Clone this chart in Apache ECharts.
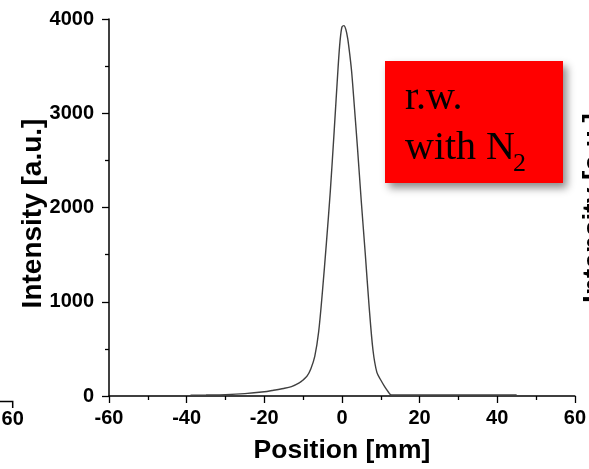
<!DOCTYPE html>
<html>
<head>
<meta charset="utf-8">
<script src="https://cdn.jsdelivr.net/npm/echarts@6/dist/echarts.min.js"></script>
<style>
  html, body { margin: 0; padding: 0; background: #fff; }
  #chart { width: 589px; height: 469px; }
</style>
</head>
<body>
<div id="chart"></div>
<script>
// Beam profile: intensity versus transverse position
const positions = [-39, -35, -30, -25, -20, -18, -15, -13, -11, -10, -9, -8, -7, -6, -5, -4, -3, -2, -1, -0.5, 0, 0.5, 1, 1.5, 2, 2.5, 3, 4, 5, 6, 7, 8, 9, 10, 11, 12, 12.5, 13, 15, 20, 30, 40, 45];
const intensity = [8, 10, 14, 25, 45, 58, 80, 100, 140, 170, 210, 290, 420, 680, 1120, 1625, 2170, 2810, 3480, 3760, 3915, 3930, 3890, 3790, 3630, 3440, 3180, 2635, 2055, 1515, 950, 485, 250, 170, 100, 40, 14, 10, 10, 10, 10, 10, 10];

const xTicks = { min: -60, max: 60, step: 20 };
const yTicks = { min: 0, max: 4000, step: 1000 };

const axisFont = { fontFamily: 'Liberation Sans, Arial, sans-serif', fontWeight: 'bold', color: '#000' };
const plain = v => String(v);

const chart = echarts.init(document.getElementById('chart'), null, { renderer: 'canvas' });

chart.setOption({
  animation: false,
  backgroundColor: '#fff',
  grid: { left: 109, right: 10, top: 19, bottom: 67, containLabel: false },
  xAxis: {
    type: 'value',
    min: xTicks.min, max: xTicks.max, interval: xTicks.step,
    name: 'Position [mm]',
    nameLocation: 'middle',
    nameGap: 41,
    nameMoveOverlap: false,
    nameTextStyle: Object.assign({ fontSize: 26.5 }, axisFont),
    axisLine: { show: true, onZero: false, lineStyle: { color: '#000', width: 1.5 } },
    axisTick: { show: true, inside: false, length: 7, lineStyle: { color: '#000', width: 1.3 } },
    minorTick: { show: true, splitNumber: 2, length: 4, lineStyle: { color: '#000', width: 1.3 } },
    axisLabel: Object.assign({ fontSize: 20, margin: 12, formatter: plain }, axisFont),
    splitLine: { show: false }
  },
  yAxis: {
    type: 'value',
    min: yTicks.min, max: yTicks.max, interval: yTicks.step,
    name: 'Intensity [a.u.]',
    nameLocation: 'middle',
    nameRotate: 90,
    nameGap: 62,
    nameMoveOverlap: false,
    nameTextStyle: Object.assign({ fontSize: 28, padding: [0, 12, 0, 0] }, axisFont),
    axisLine: { show: true, onZero: false, lineStyle: { color: '#000', width: 1.5 } },
    axisTick: { show: true, inside: false, length: 7, lineStyle: { color: '#000', width: 1.3 } },
    minorTick: { show: true, splitNumber: 2, length: 4, lineStyle: { color: '#000', width: 1.3 } },
    axisLabel: Object.assign({ fontSize: 20, margin: 15, formatter: plain }, axisFont),
    splitLine: { show: false }
  },
  series: [{
    type: 'line',
    data: positions.map((p, i) => [p, intensity[i]]),
    showSymbol: false,
    smooth: 0.3,
    lineStyle: { color: '#404040', width: 1.4 }
  }],
  graphic: [
    // red annotation box
    {
      type: 'rect',
      shape: { x: 385, y: 61, width: 178, height: 122 },
      style: {
        fill: '#ff0000',
        shadowBlur: 8, shadowOffsetX: 4, shadowOffsetY: 5,
        shadowColor: 'rgba(0,0,0,0.45)'
      },
      z: 10
    },
    {
      type: 'text', x: 405, y: 98.5, z: 11,
      style: { text: 'r.w.', font: '40px "Liberation Serif", "Times New Roman", serif', fill: '#000', verticalAlign: 'middle', align: 'left' }
    },
    {
      type: 'text', x: 405, y: 148.5, z: 11,
      style: { text: 'with N', font: '40px "Liberation Serif", "Times New Roman", serif', fill: '#000', verticalAlign: 'middle', align: 'left' }
    },
    {
      type: 'text', x: 513, y: 164.5, z: 11,
      style: { text: '2', font: '26px "Liberation Serif", "Times New Roman", serif', fill: '#000', verticalAlign: 'middle', align: 'left' }
    },
    // edge of the neighbouring panel on the left
    {
      type: 'polyline',
      shape: { points: [[0, 401.5], [12.7, 401.5], [12.7, 408]] },
      style: { stroke: '#000', lineWidth: 1.5, fill: null }
    },
    {
      type: 'text', x: 12.7, y: 419,
      style: { text: '60', font: 'bold 20px "Liberation Sans", Arial, sans-serif', fill: '#000', align: 'center', verticalAlign: 'middle' }
    },
    // edge of the neighbouring panel on the right
    {
      type: 'text', x: 594, y: 208, rotation: Math.PI / 2,
      style: { text: 'Intensity [a.u.]', font: 'bold 28px "Liberation Sans", Arial, sans-serif', fill: '#000', align: 'center', verticalAlign: 'middle' }
    }
  ]
});
</script>
</body>
</html>
